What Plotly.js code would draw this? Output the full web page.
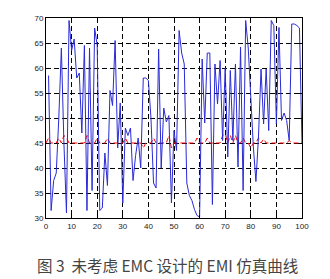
<!DOCTYPE html>
<html>
<head>
<meta charset="utf-8">
<script src="https://cdn.plot.ly/plotly-3.0.1.min.js"></script>
<style>
html,body{margin:0;padding:0;background:#fff;}
#chart{width:330px;height:279px;}
</style>
</head>
<body>
<div id="chart"></div>
<script>
// sample index (1..100)
const sampleIndex = [
  1,2,3,4,5,6,7,8,9,10,11,12,13,14,15,16,17,18,19,20,
  21,22,23,24,25,26,27,28,29,30,31,32,33,34,35,36,37,38,39,40,
  41,42,43,44,45,46,47,48,49,50,51,52,53,54,55,56,57,58,59,60,
  61,62,63,64,65,66,67,68,69,70,71,72,73,74,75,76,77,78,79,80,
  81,82,83,84,85,86,87,88,89,90,91,92,93,94,95,96,97,98,99,100
];
// simulated EMI curve (blue)
const emiValues = [
  58.5,31.5,37.5,39,50,64,45,31,69.5,63.5,65.8,58,59,47,64.5,31.5,64,35.5,68,64.5,
  31.5,32,43,36.5,55.5,52.5,65.5,44,53,33,48,46.5,48,37.5,42.5,46,40,58,58,57.5,
  50,37,36,63.8,40,52,49.2,50.5,33,47.5,43.5,67.5,63,60.8,37,34.5,33.5,31.7,30.5,30.2,
  61.8,49,63,63,32.7,60.8,52.8,61.5,45.5,60,42.2,59.5,45.5,60.8,40.2,64.2,35.5,69.5,64,52.8,
  44.2,37.3,46.2,59.8,48.8,59.8,47.5,69.5,68.5,48.8,68.1,49.5,51,49.5,45.5,68.8,68.8,68.5,68,44.8
];
// limit curve (red dashed)
const limitIndex = [
  0,1,2,3,4,5,6,7,8,9,10,11,12,13,14,15,16,17,18,19,20,
  21,22,23,24,25,26,27,28,29,30,31,32,33,34,35,36,37,38,39,40,
  41,42,43,44,45,46,47,48,49,50,51,52,53,54,55,56,57,58,59,60,
  61,62,63,64,65,66,67,68,69,70,71,72,73,74,75,76,77,78,79,80,
  81,82,83,84,85,86,87,88,89,90,91,92,93,94,95,96,97,98,99,100
];
const limitValues = [
  45,46,45,45,45,46,45,46.5,46,45,45,45,45,45,45,45,46.5,45,45,45,46,
  45,45,45,46,45,45,45,45,45,45,46,45,45,45,45,45,45,44,45,45,
  45,46,45,45,45,45,45,46.5,44,45,45,45,45,45,45,45,45,45,46,45,
  45,45,46,45,45,45,45,45,46.5,46.8,45,46.5,45,46.5,45,45,46,45,45,44,
  45,45,46,45,45.8,45,45,45,45,45,45,45,45,45,45.5,45,45,45,45,45
];
const xTicks = [0,10,20,30,40,50,60,70,80,90,100];
const yTicks = [30,35,40,45,50,55,60,65,70];
const caption = "图 3  未考虑 EMC 设计的 EMI 仿真曲线";

const traces = [
  {x: limitIndex, y: limitValues, type: 'scatter', mode: 'lines',
   line: {color: '#ff0000', width: 1, dash: '5px,3px'}, hoverinfo: 'skip'},
  {x: sampleIndex, y: emiValues, type: 'scatter', mode: 'lines',
   line: {color: '#2a2ad8', width: 1}, hoverinfo: 'skip'}
];

const axisCommon = {
  showline: true, mirror: 'ticks', linecolor: '#000', linewidth: 1,
  showgrid: true, gridcolor: '#000', gridwidth: 1, griddash: '5px,3px',
  zeroline: false, ticks: 'inside', ticklen: 3, tickcolor: '#000',
  tickfont: {family: 'Liberation Sans, Arial, sans-serif', size: 8, color: '#222'}
};

const layout = {
  width: 330, height: 279,
  margin: {l: 46, r: 28, t: 18, b: 61},
  paper_bgcolor: '#fff', plot_bgcolor: '#fff',
  showlegend: false,
  xaxis: Object.assign({}, axisCommon, {range: [0,100], tickvals: xTicks, ticktext: xTicks.map(String)}),
  yaxis: Object.assign({}, axisCommon, {range: [30,70], tickvals: yTicks, ticktext: yTicks.map(String)}),
  annotations: [{
    text: caption, xref: 'paper', yref: 'paper', x: 0.475, y: -0.235,
    xanchor: 'center', yanchor: 'middle', showarrow: false,
    font: {family: 'Noto Sans CJK SC, sans-serif', size: 15.5, color: '#444'}
  }]
};

Plotly.newPlot('chart', traces, layout, {staticPlot: true, displayModeBar: false});
</script>
</body>
</html>
